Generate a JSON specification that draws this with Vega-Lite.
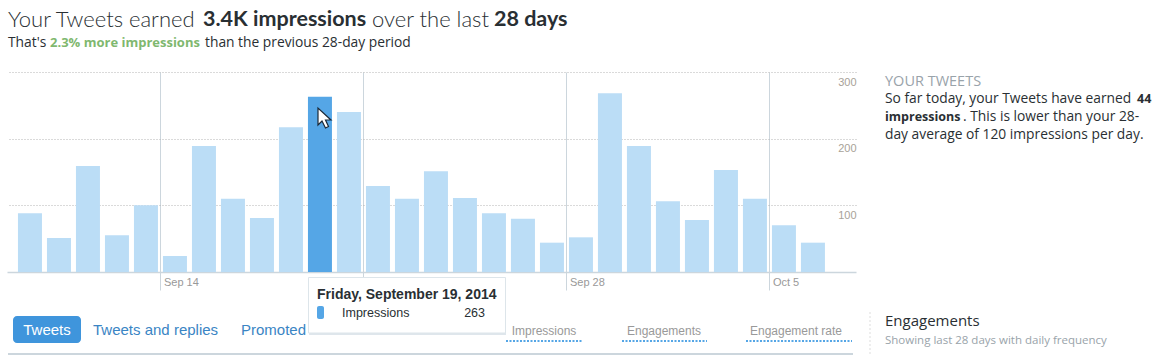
{
"$schema":"https://vega.github.io/schema/vega-lite/v6.json",
"width":849,"height":200,
"autosize":{"type":"none"},
"padding":{"left":7,"top":72,"right":304,"bottom":83},
"background":"white",
"config":{"view":{"stroke":null}},
"layer":[
{"data":{"values":[
{"date":"2014-09-09T12:00:00","impressions":88},{"date":"2014-09-10T12:00:00","impressions":51},{"date":"2014-09-11T12:00:00","impressions":159},{"date":"2014-09-12T12:00:00","impressions":55},{"date":"2014-09-13T12:00:00","impressions":100},{"date":"2014-09-14T12:00:00","impressions":24},{"date":"2014-09-15T12:00:00","impressions":189},{"date":"2014-09-16T12:00:00","impressions":110},{"date":"2014-09-17T12:00:00","impressions":81},{"date":"2014-09-18T12:00:00","impressions":217},{"date":"2014-09-19T12:00:00","impressions":263},{"date":"2014-09-20T12:00:00","impressions":240},{"date":"2014-09-21T12:00:00","impressions":129},{"date":"2014-09-22T12:00:00","impressions":110},{"date":"2014-09-23T12:00:00","impressions":151},{"date":"2014-09-24T12:00:00","impressions":111},{"date":"2014-09-25T12:00:00","impressions":88},{"date":"2014-09-26T12:00:00","impressions":80},{"date":"2014-09-27T12:00:00","impressions":44},{"date":"2014-09-28T12:00:00","impressions":52},{"date":"2014-09-29T12:00:00","impressions":268},{"date":"2014-09-30T12:00:00","impressions":189},{"date":"2014-10-01T12:00:00","impressions":106},{"date":"2014-10-02T12:00:00","impressions":78},{"date":"2014-10-03T12:00:00","impressions":153},{"date":"2014-10-04T12:00:00","impressions":110},{"date":"2014-10-05T12:00:00","impressions":70},{"date":"2014-10-06T12:00:00","impressions":44}
]},
"mark":{"type":"bar","width":24},
"encoding":{
"x":{"field":"date","type":"temporal","title":null,
"scale":{"domain":[{"year":2014,"month":9,"date":8,"hours":17},{"year":2014,"month":10,"date":7,"hours":23,"minutes":38}],"nice":false,"padding":0},
"axis":{"values":[{"year":2014,"month":9,"date":14},{"year":2014,"month":9,"date":21},{"year":2014,"month":9,"date":28},{"year":2014,"month":10,"date":5}],"format":"%b %-d","grid":true,"gridColor":"#ccd6dd","gridWidth":1,"domainColor":"#ccd6dd","domainWidth":1.5,"tickColor":"#ccd6dd","tickSize":18,"labelAlign":"left","labelBaseline":"middle","labelPadding":-8,"labelOffset":3,"labelFont":"Liberation Sans","labelFontSize":11,"labelColor":"#999999","labelFlush":false,"labelOverlap":false}},
"y":{"field":"impressions","type":"quantitative","title":null,
"scale":{"domain":[0,300],"nice":false},
"axis":{"orient":"right","values":[100,200,300],"grid":true,"gridColor":"#b4b4b4","gridDash":[1,2],"domain":false,"ticks":false,"labelAlign":"right","labelBaseline":"middle","labelPadding":0,"labelOffset":10,"labelFont":"Liberation Sans","labelFontSize":11,"labelColor":"#a8a298"}},
"color":{"condition":{"test":"datum.impressions === 263","value":"#55a6e6"},"value":"#bbddf6"}
}},
{"data":{"values":[{"c":"cursor"}]},"mark":{"type":"point","shape":"M0,0 L0,17 L4,13 L7.5,20 L10.5,18.5 L7.5,12 L13,12 Z","size":4,"filled":true,"fill":"#ffffff","stroke":"#1b2836","strokeWidth":1.2,"opacity":1,"x":311,"y":36},"encoding":{}},
{"data":{"values":[{"c":"shadow"}]},"mark":{"type":"rect","fill":"#dfe6ec","x":302,"x2":499,"y":206,"y2":263},"encoding":{}},
{"data":{"values":[{"c":"tooltip"}]},"mark":{"type":"rect","fill":"#ffffff","stroke":"#dde5ea","strokeWidth":1,"x":301.5,"x2":498.5,"y":205.5,"y2":261},"encoding":{}},
{"data":{"values":[{"c":"swatch"}]},"mark":{"type":"rect","fill":"#55a6e6","cornerRadius":2,"x":310,"x2":317,"y":234,"y2":247},"encoding":{}},
{"data":{"values":[{"c":"button"}]},"mark":{"type":"rect","fill":"#3f95dc","cornerRadius":4,"x":6,"x2":74,"y":244,"y2":271},"encoding":{}},
{"data":{"values":[{"c":"tabline"}]},"mark":{"type":"rect","fill":"#ccd6dd","x":1,"x2":846,"y":281,"y2":283},"encoding":{}},
{"data":{"values":[{"c":"u1"}]},"mark":{"type":"rule","stroke":"#55a6e6","strokeWidth":2,"strokeDash":[2,1.5]},"encoding":{"x":{"value":499},"x2":{"value":576},"y":{"value":269}}},
{"data":{"values":[{"c":"u2"}]},"mark":{"type":"rule","stroke":"#55a6e6","strokeWidth":2,"strokeDash":[2,1.5]},"encoding":{"x":{"value":615},"x2":{"value":700},"y":{"value":269}}},
{"data":{"values":[{"c":"u3"}]},"mark":{"type":"rule","stroke":"#55a6e6","strokeWidth":2,"strokeDash":[2,1.5]},"encoding":{"x":{"value":739},"x2":{"value":845},"y":{"value":269}}},
{"data":{"values":[{"c":"sep"}]},"mark":{"type":"rule","stroke":"#dddddd","strokeWidth":1,"strokeDash":[2,2]},"encoding":{"x":{"value":863},"y":{"value":240},"y2":{"value":283}}},
{"data":{"values":[{"t":"Your Tweets earned"}]},"mark":{"type":"text","align":"left","baseline":"middle","font":"Lato","fontWeight":300,"fontSize":22,"color":"#292f33","x":1,"y":-52},"encoding":{"text":{"field":"t"}}},
{"data":{"values":[{"t":"3.4K impressions"}]},"mark":{"type":"text","align":"left","baseline":"middle","font":"Lato","fontWeight":700,"fontSize":21.5,"color":"#292f33","x":196,"y":-52},"encoding":{"text":{"field":"t"}}},
{"data":{"values":[{"t":"over the last"}]},"mark":{"type":"text","align":"left","baseline":"middle","font":"Lato","fontWeight":300,"fontSize":22,"color":"#292f33","x":365,"y":-52},"encoding":{"text":{"field":"t"}}},
{"data":{"values":[{"t":"28 days"}]},"mark":{"type":"text","align":"left","baseline":"middle","font":"Lato","fontWeight":700,"fontSize":21.5,"color":"#292f33","x":487,"y":-52},"encoding":{"text":{"field":"t"}}},
{"data":{"values":[{"t":"That's"}]},"mark":{"type":"text","align":"left","baseline":"middle","font":"Open Sans","fontSize":13.8,"color":"#292f33","x":1,"y":-29},"encoding":{"text":{"field":"t"}}},
{"data":{"values":[{"t":"2.3% more impressions"}]},"mark":{"type":"text","align":"left","baseline":"middle","font":"Open Sans","fontWeight":700,"fontSize":13,"color":"#7fb86f","x":43,"y":-29},"encoding":{"text":{"field":"t"}}},
{"data":{"values":[{"t":"than the previous 28-day period"}]},"mark":{"type":"text","align":"left","baseline":"middle","font":"Open Sans","fontSize":13.8,"color":"#292f33","x":198,"y":-29},"encoding":{"text":{"field":"t"}}},
{"data":{"values":[{"t":"YOUR TWEETS"}]},"mark":{"type":"text","align":"left","baseline":"middle","font":"Open Sans","fontSize":14.5,"color":"#99a3aa","x":878,"y":9.5},"encoding":{"text":{"field":"t"}}},
{"data":{"values":[{"t":"So far today, your Tweets have earned"}]},"mark":{"type":"text","align":"left","baseline":"middle","font":"Open Sans","fontSize":13.8,"color":"#292f33","x":878,"y":27},"encoding":{"text":{"field":"t"}}},
{"data":{"values":[{"t":"44"}]},"mark":{"type":"text","align":"left","baseline":"middle","font":"Open Sans","fontWeight":700,"fontSize":12.5,"color":"#292f33","x":1130,"y":27},"encoding":{"text":{"field":"t"}}},
{"data":{"values":[{"t":"impressions"}]},"mark":{"type":"text","align":"left","baseline":"middle","font":"Open Sans","fontWeight":700,"fontSize":12.5,"color":"#292f33","x":878,"y":45},"encoding":{"text":{"field":"t"}}},
{"data":{"values":[{"t":". This is lower than your 28-"}]},"mark":{"type":"text","align":"left","baseline":"middle","font":"Open Sans","fontSize":13.8,"color":"#292f33","x":956,"y":45},"encoding":{"text":{"field":"t"}}},
{"data":{"values":[{"t":"day average of 120 impressions per day."}]},"mark":{"type":"text","align":"left","baseline":"middle","font":"Open Sans","fontSize":13.8,"color":"#292f33","x":878,"y":63},"encoding":{"text":{"field":"t"}}},
{"data":{"values":[{"t":"Friday, September 19, 2014"}]},"mark":{"type":"text","align":"left","baseline":"middle","font":"Liberation Sans","fontWeight":700,"fontSize":14,"color":"#292f33","x":310,"y":223},"encoding":{"text":{"field":"t"}}},
{"data":{"values":[{"t":"Impressions"}]},"mark":{"type":"text","align":"left","baseline":"middle","font":"Liberation Sans","fontSize":12.5,"color":"#292f33","x":335,"y":241},"encoding":{"text":{"field":"t"}}},
{"data":{"values":[{"t":"263"}]},"mark":{"type":"text","align":"right","baseline":"middle","font":"Liberation Sans","fontSize":12.5,"color":"#292f33","x":478,"y":241},"encoding":{"text":{"field":"t"}}},
{"data":{"values":[{"t":"Tweets"}]},"mark":{"type":"text","align":"center","baseline":"middle","font":"Liberation Sans","fontSize":15,"color":"#ffffff","x":40,"y":258},"encoding":{"text":{"field":"t"}}},
{"data":{"values":[{"t":"Tweets and replies"}]},"mark":{"type":"text","align":"left","baseline":"middle","font":"Liberation Sans","fontSize":15,"color":"#3a85c4","x":86,"y":258},"encoding":{"text":{"field":"t"}}},
{"data":{"values":[{"t":"Promoted"}]},"mark":{"type":"text","align":"left","baseline":"middle","font":"Liberation Sans","fontSize":15,"color":"#3a85c4","x":234,"y":258},"encoding":{"text":{"field":"t"}}},
{"data":{"values":[{"t":"Impressions"}]},"mark":{"type":"text","align":"center","baseline":"middle","font":"Liberation Sans","fontSize":12,"color":"#999999","x":537,"y":259},"encoding":{"text":{"field":"t"}}},
{"data":{"values":[{"t":"Engagements"}]},"mark":{"type":"text","align":"center","baseline":"middle","font":"Liberation Sans","fontSize":12,"color":"#999999","x":657,"y":259},"encoding":{"text":{"field":"t"}}},
{"data":{"values":[{"t":"Engagement rate"}]},"mark":{"type":"text","align":"center","baseline":"middle","font":"Liberation Sans","fontSize":12,"color":"#999999","x":789,"y":259},"encoding":{"text":{"field":"t"}}},
{"data":{"values":[{"t":"Engagements"}]},"mark":{"type":"text","align":"left","baseline":"middle","font":"Open Sans","fontSize":15,"color":"#292f33","x":878,"y":249},"encoding":{"text":{"field":"t"}}},
{"data":{"values":[{"t":"Showing last 28 days with daily frequency"}]},"mark":{"type":"text","align":"left","baseline":"middle","font":"Open Sans","fontSize":11.5,"color":"#99a3aa","x":878,"y":269},"encoding":{"text":{"field":"t"}}}
]
}
